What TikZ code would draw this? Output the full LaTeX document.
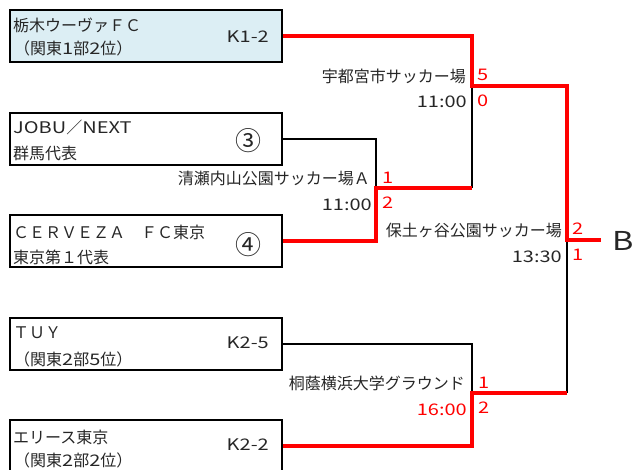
\documentclass[tikz,border=0pt]{standalone}
\usepackage{fontspec}
\setmainfont{Noto Sans CJK JP}
\newfontfamily\latn[FakeStretch=1.25]{Noto Sans CJK JP}
\definecolor{boxblue}{RGB}{220,238,244}
\definecolor{txt}{RGB}{38,38,38}
\begin{document}
\begin{tikzpicture}[x=1pt,y=-1pt,
  team/.style={draw=black,line width=2pt,minimum width=272pt,minimum height=52pt,anchor=north west,inner sep=0pt},
  tl/.style={anchor=west,inner sep=0pt,font=\fontsize{16}{16}\selectfont,text=txt},
  tr/.style={anchor=east,inner sep=0pt,font=\fontsize{16}{16}\selectfont\latn,text=txt},
  lab/.style={anchor=east,inner sep=0pt,font=\fontsize{16}{16}\selectfont,text=txt},
  tim/.style={anchor=east,inner sep=0pt,font=\fontsize{16}{16}\selectfont\latn,text=txt},
  sc/.style={anchor=west,inner sep=0pt,font=\fontsize{16}{16}\selectfont\latn,text=red},
  circ/.style={anchor=center,inner sep=0pt,font=\fontsize{26}{26}\selectfont,text=txt},
  blk/.style={draw=black,line width=1.6pt},
  win/.style={draw=red,line width=3.5pt,line join=miter}]
\useasboundingbox (0,0) rectangle (633,470);
% boxes
\node[team,fill=boxblue] (b1) at (9,9) {};
\node[team] (b2) at (9,112) {};
\node[team] (b3) at (9,214) {};
\node[team] (b4) at (9,317) {};
\node[team] (b5) at (9,419) {};
% box texts
\node[tl] (t1a) at (13,25) {栃木ウーヴァＦＣ};
\node[tl] (t1b) at (14,48) {（関東{\latn 1}部{\latn 2}位）};
\node[tr] (t1c) at (269,37) {K1-2};
\node[tl] (t2a) at (13,127) {{\latn JOBU}／{\latn NEXT}};
\node[tl] (t2b) at (13,153) {群馬代表};
\node[circ] (t2c) at (248,141) {③};
\node[tl] (t3a) at (13,232) {ＣＥＲＶＥＺＡ　ＦＣ東京};
\node[tl] (t3b) at (13,257) {東京第１代表};
\node[circ] (t3c) at (248,245) {④};
\node[tl] (t4a) at (13,333) {ＴＵＹ};
\node[tl] (t4b) at (14,359) {（関東{\latn 2}部{\latn 5}位）};
\node[tr] (t4c) at (269,343) {K2-5};
\node[tl] (t5a) at (13,437) {エリース東京};
\node[tl] (t5b) at (14,460) {（関東{\latn 2}部{\latn 2}位）};
\node[tr] (t5c) at (269,445) {K2-2};
% junctions
\coordinate (m1) at (472,86);
\coordinate (m2) at (376,188);
\coordinate (m3) at (567,240);
\coordinate (m4) at (472,393);
\coordinate (out) at (601,240);
% black lines
\draw[blk] (b2.east) -| (m2);
\draw[blk] (m2 -| m1) -- (m1);
\draw[blk] (b4.east) -| (m4);
\draw[blk] (m4 -| m3) -- (m3);
% red lines
\draw[win] (b1.east) -| (m1) -| (m3) -- (out);
\draw[win] (b3.east) -| (m2) -- (m2 -| m1);
\draw[win] (b5.east) -| (m4) -- (m4 -| m3);
\node[anchor=west,inner sep=0pt,font=\fontsize{26}{26}\selectfont\latn,text=txt] (B) at (612,241) {B};
% match labels
\node[lab] (v1) at (466,76) {宇都宮市サッカー場};
\node[tim] (d1) at (467,102) {11:00};
\node[sc] (s1a) at (477,75) {5};
\node[sc] (s1b) at (477,101) {0};
\node[lab] (v2) at (370,178) {清瀬内山公園サッカー場Ａ};
\node[tim] (d2) at (372,205) {11:00};
\node[sc] (s2a) at (382,178) {1};
\node[sc] (s2b) at (382,203) {2};
\node[lab] (v3) at (562,230) {保土ヶ谷公園サッカー場};
\node[tim] (d3) at (562,257) {13:30};
\node[sc] (s3a) at (572,229) {2};
\node[sc] (s3b) at (572,255) {1};
\node[lab] (v4) at (465,383) {桐蔭横浜大学グラウンド};
\node[tim,text=red] (d4) at (467,410) {16:00};
\node[sc] (s4a) at (478,383) {1};
\node[sc] (s4b) at (478,408) {2};
\end{tikzpicture}
\end{document}
